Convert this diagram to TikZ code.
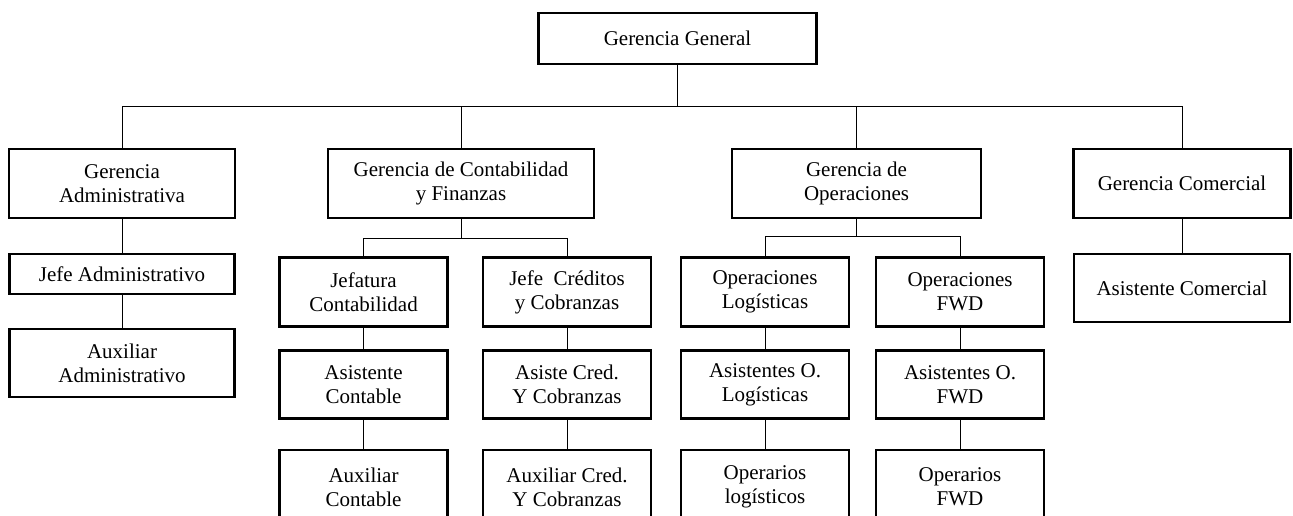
\documentclass[tikz,border=0pt]{standalone}
\usepackage{fontspec}
\setmainfont{Liberation Serif}

\begin{document}
\begin{tikzpicture}[x=1pt, y=-1pt,
    cargo/.style={draw, line width=2.4pt, align=center, inner sep=0pt,
        font=\fontsize{21}{24}\selectfont},
    enlace/.style={line width=1pt}]
    % Frame
    \useasboundingbox (0,0) rectangle (1293,516);
    \clip (0,0) rectangle (1293,516);

    % Top level
    \node[cargo, minimum width=278, minimum height=51] (gg) at (677.5,38.5) {Gerencia General};

    % Second level
    \foreach \n/\x/\w/\t in {ga/122/226/{Gerencia\\Administrativa},
                             gcf/461/266/{Gerencia de Contabilidad\\y Finanzas},
                             go/856.5/249/{Gerencia de\\Operaciones},
                             gc/1182/217/{Gerencia Comercial}} {
        \node[cargo, minimum width=\w, minimum height=69] (\n) at (\x,183.5) {\t};
    }

    % Administracion
    \node[cargo, minimum width=225, minimum height=40] (ja) at (122,274) {Jefe Administrativo};
    \node[cargo, minimum width=225, minimum height=68] (aa) at (122,363) {Auxiliar\\Administrativo};

    % Contabilidad y operaciones
    \foreach \n/\x/\t in {jc/363.5/{Jefatura\\Contabilidad}, jcr/567/{Jefe~ Créditos\\y Cobranzas},
                          ol/765/{Operaciones\\Logísticas}, of/960/{Operaciones\\FWD}} {
        \node[cargo, minimum width=168, minimum height=69] (\n) at (\x,292) {\t};
    }
    \foreach \n/\x/\t in {ac/363.5/{Asistente\\Contable}, acr/567/{Asiste Cred.\\Y Cobranzas},
                          aol/765/{Asistentes O.\\Logísticas}, aof/960/{Asistentes O.\\FWD}} {
        \node[cargo, minimum width=168, minimum height=68] (\n) at (\x,384.5) {\t};
    }
    \foreach \n/\x/\t in {xc/363.5/{Auxiliar\\Contable}, xcr/567/{Auxiliar Cred.\\Y Cobranzas},
                          pol/765/{Operarios\\logísticos}, pof/960/{Operarios\\FWD}} {
        \node[cargo, minimum width=168, minimum height=74] (\n) at (\x,487) {\t};
    }

    % Comercial
    \node[cargo, minimum width=216, minimum height=68] (acm) at (1182,288) {Asistente Comercial};

    % Connectors
    \foreach \n in {ga, gcf, go, gc} {
        \draw[enlace] (\n.north) -- ++(0,-41) -| (gg.south);
    }
    \draw[enlace] (ga.south) -- (ja.north);
    \draw[enlace] (ja.south) -- (aa.north);
    \foreach \n in {jc, jcr} {
        \draw[enlace] (\n.north) -- ++(0,-18) -| (gcf.south);
    }
    \foreach \n in {ol, of} {
        \draw[enlace] (\n.north) -- ++(0,-20) -| (go.south);
    }
    \foreach \a/\b/\c in {jc/ac/xc, jcr/acr/xcr, ol/aol/pol, of/aof/pof} {
        \draw[enlace] (\a.south) -- (\b.north);
        \draw[enlace] (\b.south) -- (\c.north);
    }
    \draw[enlace] (gc.south) -- (acm.north);
\end{tikzpicture}
\end{document}
